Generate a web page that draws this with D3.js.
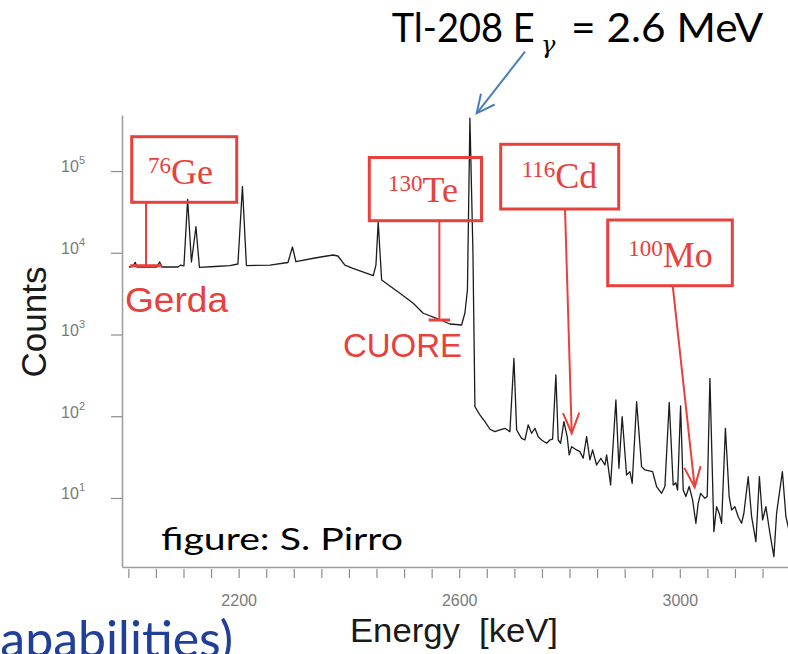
<!DOCTYPE html>
<html>
<head>
<meta charset="utf-8">
<script src="https://cdn.jsdelivr.net/npm/d3@7"></script>
<style>
  body { margin: 0; background: #fff; }
  svg { display: block; }
</style>
</head>
<body>
<script>
// spectrum: energy [keV] and counts per bin
var energy = [2001, 2008, 2012.5, 2015.6, 2051.9, 2056.8, 2060.9, 2089.9, 2095.4, 2100.8,
  2107.5, 2114.4, 2122.6, 2128.9, 2157, 2184.2, 2198.7, 2206.9, 2214.1, 2256.8,
  2289.4, 2297.6, 2303.9, 2338.3, 2371, 2380, 2392.7, 2407.2, 2444.1, 2449,
  2453.1, 2459.3, 2492.5, 2516.6, 2534.7, 2559, 2583.1, 2604.3, 2610.3, 2614.9,
  2619.4, 2624.8, 2628.5, 2637.5, 2646.6, 2655.7, 2664.7, 2673.8, 2682.9, 2691.9,
  2699.2, 2704.1, 2713.1, 2719.1, 2725.1, 2731.3, 2737.3, 2743.2, 2749.4, 2758.5,
  2764.5, 2769.3, 2775.3, 2779.5, 2783.9, 2789.8, 2795.8, 2799.4, 2803.8, 2812.9,
  2818.8, 2824.8, 2831, 2837, 2841.9, 2849.1, 2856.9, 2864.2, 2867.3, 2874.5,
  2884.1, 2889.6, 2895.5, 2903.5, 2909.5, 2913.7, 2921.7, 2930.7, 2936.7, 2950.7,
  2957.9, 2967, 2973, 2980.8, 2988, 2992.9, 2996, 3001.4, 3006.2, 3011,
  3017, 3023.2, 3029.2, 3033.3, 3037.7, 3045.5, 3049.7, 3054.6, 3061.8, 3066.7,
  3071.4, 3075.8, 3082.7, 3089.5, 3093.9, 3099.9, 3105.9, 3112, 3116.2, 3124,
  3130.2, 3138, 3144.3, 3150.1, 3156.1, 3163.4, 3170.6, 3175.5, 3186, 3192.4, 3197.8];

var counts = [6700, 6790, 7640, 6700, 6700, 7710, 6700, 6700, 7080, 6890,
  45080, 7710, 20830, 6640, 6790, 6980, 7290, 64600, 6980, 7080,
  7600, 11760, 7770, 8630, 9390, 9130, 7080, 6450, 5240, 7080,
  23780, 4640, 3190, 2410, 1820, 1580, 1345, 1307, 1833, 3500,
  444900, 10810, 131, 103.6, 85.8, 69.3, 64.7, 67.9, 71.2, 64.7,
  511.6, 67.9, 53.7, 51.2, 78.2, 61.9, 71.2, 56.2, 51.2, 46.7,
  51.2, 52.3, 319.6, 51.2, 46.7, 85.8, 56.2, 33.6, 42.4, 38.7,
  36.9, 30.6, 56.2, 29.2, 38.7, 25.3, 30.6, 25.3, 33.6, 14.4,
  158, 23.1, 98.8, 19.1, 21.0, 15.1, 150.7, 24.2, 22.0, 21.0,
  13.8, 11.4, 13.8, 147.3, 14.4, 15.3, 12.5, 133.5, 12.5, 10.4,
  13.8, 9.46, 4.9, 8.6, 11.4, 9.9, 10.4, 291, 3.87, 7.83,
  6.5, 4.9, 71.2, 10.4, 7.13, 7.83, 5.9, 4.9, 6.5, 18.2,
  5.9, 2.92, 18.2, 5.38, 7.83, 3.7, 1.91, 6.5, 21.0, 5.9, 4.06];

var xTicks = d3.range(2000, 3201, 50);
var xLabels = [2200, 2600, 3000];
var yTicks = [10, 100, 1000, 10000, 100000];

// isotopes marked on the plot
var isoMass = ["76", "130", "116", "100"];
var isoName = ["Ge", "Te", "Cd", "Mo"];
var isoEnergy = [2032, 2564, 2804, 3027];     // keV where the marker points
var isoCounts = [6945, 1503, 61.9, 13.5];     // level of the marker
var experiments = ["Gerda", "CUORE"];

var W = 788, H = 654;
var red = "#e8413c", blue = "#1f3f9a";

var svg = d3.select("body").append("svg")
    .attr("width", W)
    .attr("height", H);

var x = d3.scaleLinear().domain([1988.5, 3200]).range([122, 790.1]);
var y = d3.scaleLog().domain([1.43, 4.85e5]).range([567, 115]);

//---------- axes ----------
var xAxis = d3.axisBottom(x)
    .tickValues(xTicks)
    .tickSize(11)
    .tickSizeOuter(0)
    .tickPadding(17)
    .tickFormat(function(d) { return xLabels.indexOf(d) > -1 ? d : ""; });

var gx = svg.append("g")
    .attr("transform", "translate(0,567)")
    .call(xAxis);

var yAxis = d3.axisLeft(y)
    .tickValues(yTicks)
    .tickSize(11)
    .tickSizeOuter(0)
    .tickPadding(26);

var gy = svg.append("g")
    .attr("transform", "translate(122,0)")
    .call(yAxis);

[gx, gy].forEach(function(g) {
  g.attr("font-family", "'Liberation Sans', Arial, sans-serif").attr("font-size", 16);
  g.select(".domain").attr("stroke", "#9a9a9a").attr("stroke-width", 1.5);
  g.selectAll(".tick line").attr("stroke", "#8c8c8c").attr("stroke-width", 1.2);
  g.selectAll(".tick text").attr("fill", "#7a7a7a");
});
gx.selectAll(".tick line").attr("y1", 2);

// 10^n labels
gy.selectAll(".tick text")
    .attr("dy", "0.05em")
    .text(null)
    .each(function(d) {
      var t = d3.select(this);
      t.append("tspan").text("10");
      t.append("tspan").attr("dy", -8).attr("font-size", 11).text(Math.round(Math.log10(d)));
    });

//---------- spectrum ----------
var line = d3.line()
    .x(function(d) { return x(d[0]); })
    .y(function(d) { return y(d[1]); });

svg.append("path")
    .datum(d3.zip(energy, counts))
    .attr("fill", "none")
    .attr("stroke", "#1c1c1c")
    .attr("stroke-width", 1.3)
    .attr("stroke-linejoin", "round")
    .attr("d", line);

//---------- axis titles ----------
svg.append("text")
    .attr("transform", "translate(46,322) rotate(-90)")
    .attr("text-anchor", "middle")
    .attr("font-family", "'Liberation Sans', Arial, sans-serif")
    .attr("font-size", 35)
    .attr("fill", "#1a1a1a")
    .text("Counts");

svg.append("text")
    .attr("x", 350)
    .attr("y", 642)
    .attr("font-family", "'Liberation Sans', Arial, sans-serif")
    .attr("font-size", 34)
    .attr("fill", "#1a1a1a")
    .attr("textLength", 208)
    .attr("lengthAdjust", "spacingAndGlyphs")
    .style("white-space", "pre")
    .text("Energy  [keV]");

//---------- annotations ----------
var ann = svg.append("g");

function arrow(x1, y1, x2, y2, color, w, len, ang) {
  ann.append("line")
      .attr("x1", x1).attr("y1", y1).attr("x2", x2).attr("y2", y2)
      .attr("stroke", color).attr("stroke-width", w);
  var a = Math.atan2(y2 - y1, x2 - x1) + Math.PI;
  ann.append("path")
      .attr("d", "M" + (x2 + len * Math.cos(a - ang)) + "," + (y2 + len * Math.sin(a - ang)) +
                 "L" + x2 + "," + y2 +
                 "L" + (x2 + len * Math.cos(a + ang)) + "," + (y2 + len * Math.sin(a + ang)))
      .attr("fill", "none").attr("stroke", color).attr("stroke-width", w);
}

// boxes (pixel layout) and label start / baseline
var boxes = [[131.7, 136.7, 236.7, 202.3], [369.3, 157.5, 481.5, 220.7],
             [500.7, 144.3, 618.7, 209], [607.7, 220, 732.3, 285.7]];
var labelPos = [[148, 183.5], [388, 201.7], [521.7, 188.3], [628.3, 266.7]];

boxes.forEach(function(b, i) {
  ann.append("rect")
      .attr("x", b[0]).attr("y", b[1])
      .attr("width", b[2] - b[0]).attr("height", b[3] - b[1])
      .attr("fill", "none").attr("stroke", red).attr("stroke-width", 3);
  var t = ann.append("text")
      .attr("x", labelPos[i][0]).attr("y", labelPos[i][1])
      .attr("font-family", "'Liberation Serif', 'Times New Roman', serif")
      .attr("fill", red);
  t.append("tspan").attr("font-size", 23).attr("dy", -11).text(isoMass[i]);
  t.append("tspan").attr("font-size", 36).attr("dy", 11).text(isoName[i]);
});

// Gerda / CUORE: stem with a flat bar at the sensitivity level
[0, 1].forEach(function(i) {
  var sx = x(isoEnergy[i]), sy = y(isoCounts[i]);
  ann.append("line")
      .attr("x1", sx).attr("x2", sx).attr("y1", boxes[i][3]).attr("y2", sy)
      .attr("stroke", red).attr("stroke-width", 2);
  var half = i === 0 ? 28.6 : 19.5;
  ann.append("line")
      .attr("x1", x(isoEnergy[i] - half)).attr("x2", x(isoEnergy[i] + half))
      .attr("y1", sy).attr("y2", sy)
      .attr("stroke", red).attr("stroke-width", 3);
});

// Cd / Mo: arrows down to the spectrum
arrow(565, 209, x(isoEnergy[2]), y(isoCounts[2]), red, 2, 22, 0.38);
arrow(672.7, 285.7, x(isoEnergy[3]), y(isoCounts[3]), red, 2, 22, 0.38);

var sans = "'Liberation Sans', Arial, sans-serif";
ann.append("text").attr("x", 125).attr("y", 311.7)
    .attr("font-family", sans).attr("font-size", 35).attr("fill", red)
    .attr("textLength", 103).attr("lengthAdjust", "spacingAndGlyphs")
    .text(experiments[0]);
ann.append("text").attr("x", 343).attr("y", 357)
    .attr("font-family", sans).attr("font-size", 34).attr("fill", red)
    .attr("textLength", 119).attr("lengthAdjust", "spacingAndGlyphs")
    .text(experiments[1]);

// Tl-208 line callout
var calibri = "Lato, 'Open Sans', sans-serif";
ann.append("text").attr("x", 391.7).attr("y", 41.7)
    .attr("font-family", calibri).attr("font-size", 40).attr("fill", "#000")
    .attr("textLength", 143).attr("lengthAdjust", "spacingAndGlyphs")
    .text("Tl-208 E");
ann.append("text").attr("x", 541).attr("y", 53)
    .attr("font-family", "'DejaVu Serif', serif").attr("font-style", "italic")
    .attr("font-size", 24).attr("fill", "#000")
    .text("γ");
ann.append("text").attr("x", 571).attr("y", 41.7)
    .attr("font-family", calibri).attr("font-size", 40).attr("fill", "#000")
    .attr("textLength", 192.3).attr("lengthAdjust", "spacingAndGlyphs")
    .style("white-space", "pre")
    .text("= 2.6 MeV");
arrow(525, 51.7, 476.7, 113.3, "#4a7ebb", 2, 20, 0.45);

ann.append("text").attr("x", 161).attr("y", 550)
    .attr("font-family", calibri).attr("font-size", 31).attr("fill", "#000")
    .attr("textLength", 242).attr("lengthAdjust", "spacingAndGlyphs")
    .text("figure: S. Pirro");

// slide text cut off at the edges
svg.append("text").attr("x", -6).attr("y", -1)
    .attr("font-family", calibri).attr("font-size", 44).attr("fill", blue)
    .text("e:");
svg.append("text").attr("x", 233).attr("y", 657)
    .attr("text-anchor", "end")
    .attr("font-family", calibri).attr("font-size", 50).attr("fill", blue)
    .text("capabilities)");
</script>
</body>
</html>
